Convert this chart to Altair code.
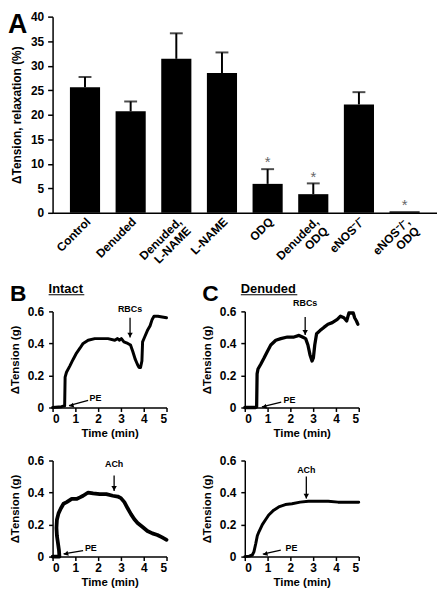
import altair as alt
import pandas as pd

FONT = "Liberation Sans"
NB = "\u00a0"

# ---------------- Panel A data ----------------
cats = ["Control", "Denuded", "Denuded,|L-NAME" + NB, "L-NAME", "ODQ",
        "Denuded,|ODQ" + NB * 4, "eNOS⁻/⁻", "eNOS⁻/⁻,|ODQ" + NB * 4]
means = [25.6, 20.7, 31.4, 28.5, 5.9, 3.8, 22.1, 0.3]
errs = [2.1, 2.0, 5.2, 4.2, 3.0, 2.2, 2.5, 0.0]
star_pos = [None, None, None, None, 10.9, 7.8, None, 2.2]

# ---------------- Panel B/C traces ----------------
b_top_t = [0, 0.39, 0.51, 0.53, 0.55, 0.61, 0.76, 0.90, 1.05, 1.20, 1.34, 1.56, 1.85, 2.14, 2.43,
           2.73, 2.85, 2.94, 3.02, 3.13, 3.30, 3.42, 3.52, 3.63, 3.72, 3.79, 3.86, 3.92, 3.95,
           4.04, 4.16, 4.28, 4.37, 4.45, 4.62, 5.0]
b_top_v = [0, 0.005, 0.01, 0.01, 0.19, 0.22, 0.26, 0.30, 0.34, 0.37, 0.40, 0.42, 0.43, 0.43, 0.43,
           0.42, 0.43, 0.42, 0.43, 0.41, 0.40, 0.39, 0.35, 0.30, 0.27, 0.25, 0.25, 0.29, 0.41,
           0.44, 0.48, 0.51, 0.55, 0.57, 0.57, 0.56]

c_top_t = [0, 0.48, 0.52, 0.54, 0.58, 0.70, 0.85, 0.99, 1.14, 1.36, 1.58, 1.87, 2.16, 2.38, 2.53,
           2.67, 2.77, 2.86, 2.95, 3.01, 3.07, 3.15, 3.30, 3.47, 3.65, 3.84, 4.06, 4.20, 4.35,
           4.47, 4.57, 4.67, 4.76, 4.82, 4.90, 4.96]
c_top_v = [0, 0, 0.005, 0.21, 0.24, 0.27, 0.31, 0.35, 0.39, 0.42, 0.43, 0.44, 0.44, 0.45, 0.44,
           0.43, 0.39, 0.33, 0.29, 0.31, 0.39, 0.46, 0.48, 0.50, 0.52, 0.53, 0.55, 0.57, 0.56,
           0.54, 0.59, 0.59, 0.59, 0.56, 0.54, 0.52]

b_bot_t = [0, 0.30, 0.28, 0.22, 0.19, 0.17, 0.19, 0.26, 0.36, 0.48, 0.62, 0.84, 1.05, 1.20, 1.34,
           1.56, 1.78, 2.07, 2.36, 2.64, 2.86, 3.00, 3.15, 3.30, 3.44, 3.58, 3.73, 3.95, 4.16,
           4.38, 4.60, 4.81, 5.0]
b_bot_v = [0, 0, 0.04, 0.10, 0.13, 0.18, 0.23, 0.27, 0.30, 0.33, 0.34, 0.36, 0.36, 0.37, 0.38,
           0.40, 0.395, 0.39, 0.39, 0.38, 0.375, 0.365, 0.34, 0.30, 0.265, 0.235, 0.21, 0.185,
           0.16, 0.145, 0.135, 0.12, 0.105]

c_bot_t = [0, 0.19, 0.33, 0.40, 0.48, 0.55, 0.62, 0.77, 0.91, 1.05, 1.27, 1.49, 1.78, 2.07, 2.43,
           2.79, 3.22, 3.66, 4.09, 4.52, 5.0]
c_bot_v = [0, 0.003, 0.01, 0.03, 0.08, 0.13, 0.155, 0.20, 0.23, 0.26, 0.29, 0.31, 0.325, 0.33,
           0.34, 0.345, 0.345, 0.345, 0.34, 0.34, 0.34]

# annotations: (stimulus label, arrow time, tail value, tip value, label value)
stim_b_top = ("RBCs", 3.40, 0.561, 0.437, 0.612)
stim_c_top = ("RBCs", 2.65, 0.565, 0.453, 0.651)
stim_b_bot = ("ACh", 2.70, 0.507, 0.41, 0.58)
stim_c_bot = ("ACh", 2.70, 0.50, 0.362, 0.542)
# PE: (text t, text v, tail t, tail v, tip t, tip v)
pe_b_top = (1.88, 0.056, 1.56, 0.045, 0.72, 0.011)
pe_c_top = (1.96, 0.049, 1.60, 0.034, 0.75, 0.004)
pe_b_bot = (1.68, 0.051, 1.34, 0.037, 0.48, 0.017)
pe_c_bot = (2.05, 0.051, 1.58, 0.040, 0.79, 0.016)

one = pd.DataFrame({"k": [0]})

# ---------------- Panel A ----------------
dfA = pd.DataFrame({"cat": cats, "mean": means, "err": errs})
dfA["upper"] = dfA["mean"] + dfA["err"]
dfE = dfA[dfA["err"] > 0]
dfS = pd.DataFrame({"cat": [c for c, s in zip(cats, star_pos) if s is not None],
                    "s": [s for s in star_pos if s is not None]})

xAxisA = alt.Axis(title=None, labelAngle=-45, ticks=False,
                  labelExpr="split(datum.label, '|')",
                  labelFontSize=12, labelPadding=3, labelLineHeight=13)
yAxisA = alt.Axis(values=list(range(0, 41, 5)), title="ΔTension, relaxation (%)",
                  tickSize=5, labelPadding=4, titlePadding=7)
xScaleA = alt.Scale(paddingInner=0.34, paddingOuter=0.38)
yScaleA = alt.Scale(domain=[0, 40], nice=False)


def xA():
    return alt.X("cat:N", sort=cats, scale=xScaleA, axis=xAxisA)


def yA(field):
    return alt.Y(field, scale=yScaleA, axis=yAxisA)


bars = alt.Chart(dfA).mark_bar(color="black").encode(x=xA(), y=yA("mean:Q"))
erule = alt.Chart(dfE).mark_rule(color="black", strokeWidth=2).encode(
    x=xA(), y=yA("mean:Q"), y2="upper:Q")
ecap = alt.Chart(dfE).mark_tick(color="black", thickness=2, size=13).encode(
    x=xA(), y=yA("upper:Q"))
stars = alt.Chart(dfS).mark_text(text="*", fontSize=15, color="#666", font=FONT,
                                 baseline="alphabetic", dy=8).encode(
    x=xA(), y=yA("s:Q"))
labA = alt.Chart(one).mark_text(text="A", fontSize=27, fontWeight="bold", font=FONT,
                                align="left", baseline="alphabetic").encode(
    x=alt.value(-45), y=alt.value(17))

panelA = alt.layer(bars, erule, ecap, stars, labA).properties(width=388, height=198)


# ---------------- trace panel builder ----------------
def trace(t, v, lw, stim, pe, letter=None, heading=None, head_w=0):
    df = pd.DataFrame({"t": t, "v": v, "i": list(range(len(t)))})
    xax = alt.Axis(values=[0, 1, 2, 3, 4, 5], title="Time (min)", tickSize=4,
                   labelPadding=2, titlePadding=3, titleFontSize=11.5)
    yax = alt.Axis(values=[0, 0.2, 0.4, 0.6], format="~g", title="ΔTension (g)",
                   tickSize=4, labelPadding=5, titlePadding=7, titleFontSize=11.5)
    xsc = alt.Scale(domain=[0, 5], nice=False)
    ysc = alt.Scale(domain=[0, 0.6], nice=False)

    def X(f):
        return alt.X(f, scale=xsc, axis=xax)

    def Y(f):
        return alt.Y(f, scale=ysc, axis=yax)

    line = alt.Chart(df).mark_line(color="black", strokeWidth=lw, strokeJoin="round",
                                   strokeCap="round").encode(x=X("t:Q"), y=Y("v:Q"),
                                                             order="i:Q")
    lab, st, s0, s1, sl = stim
    dst = pd.DataFrame({"t": [st], "v": [s0], "v2": [s1], "vl": [sl], "lab": [lab]})
    shaft = alt.Chart(dst).mark_rule(color="black", strokeWidth=1.3).encode(
        x=X("t:Q"), y=Y("v:Q"), y2="v2:Q")
    head = alt.Chart(dst).mark_point(shape="triangle-down", filled=True, size=30,
                                     color="black", opacity=1, yOffset=-2.5).encode(
        x=X("t:Q"), y=Y("v2:Q"))
    stext = alt.Chart(dst).mark_text(fontSize=9, fontWeight="bold", font=FONT,
                                     baseline="middle").encode(
        x=X("t:Q"), y=Y("vl:Q"), text="lab:N")
    pt, pv, ta, va, tb, vb = pe
    dpe = pd.DataFrame({"t": [ta], "v": [va], "t2": [tb], "v2": [vb], "tt": [pt], "tv": [pv],
                        "lab": ["PE"]})
    pshaft = alt.Chart(dpe).mark_rule(color="black", strokeWidth=1.3).encode(
        x=X("t:Q"), y=Y("v:Q"), x2="t2:Q", y2="v2:Q")
    phead = alt.Chart(dpe).mark_point(shape="triangle-left", filled=True, size=26,
                                      color="black", opacity=1, angle=344,
                                      xOffset=2.5).encode(x=X("t2:Q"), y=Y("v2:Q"))
    ptext = alt.Chart(dpe).mark_text(fontSize=9, fontWeight="bold", font=FONT,
                                     baseline="middle").encode(
        x=X("tt:Q"), y=Y("tv:Q"), text="lab:N")
    layers = [line, shaft, head, stext, pshaft, phead, ptext]
    if letter:
        layers.append(alt.Chart(one).mark_text(text=letter, fontSize=23, fontWeight="bold",
                                               font=FONT, align="left",
                                               baseline="alphabetic").encode(
            x=alt.value(-43), y=alt.value(-10)))
        layers.append(alt.Chart(one).mark_text(text=heading, fontSize=13, fontWeight="bold",
                                               font=FONT, align="left",
                                               baseline="alphabetic").encode(
            x=alt.value(-4), y=alt.value(-18.5)))
        layers.append(alt.Chart(one).mark_rule(color="black", strokeWidth=1.2).encode(
            x=alt.value(-4), x2=alt.value(-4 + head_w), y=alt.value(-16.8)))
    return alt.layer(*layers).properties(width=115, height=97)


bt = trace(b_top_t, b_top_v, 3, stim_b_top, pe_b_top, "B", "Intact", 36)
ct = trace(c_top_t, c_top_v, 3.3, stim_c_top, pe_c_top, "C", "Denuded", 57)
bb = trace(b_bot_t, b_bot_v, 3.8, stim_b_bot, pe_b_bot)
cb = trace(c_bot_t, c_bot_v, 3, stim_c_bot, pe_c_bot)

colB = alt.vconcat(bt, bb, spacing=53.5, bounds="flush")
colC = alt.vconcat(ct, cb, spacing=53.5, bounds="flush")
lower = alt.hconcat(colB, colC, spacing=194, bounds="flush")

chart = alt.vconcat(panelA, lower, spacing=99.5, bounds="flush").properties(
    padding={"left": 0, "top": 0, "right": 0, "bottom": 0}, background="white"
).configure_view(stroke=None).configure_axis(
    labelFont=FONT, labelFontWeight="bold", labelFontSize=12, labelColor="black",
    titleFont=FONT, titleFontWeight="bold", titleFontSize=12, titleColor="black",
    domainColor="black", tickColor="black", domainWidth=1.5, tickWidth=1.5, grid=False
)

chart.save("out.html", embed_options={"renderer": "svg", "actions": False})
